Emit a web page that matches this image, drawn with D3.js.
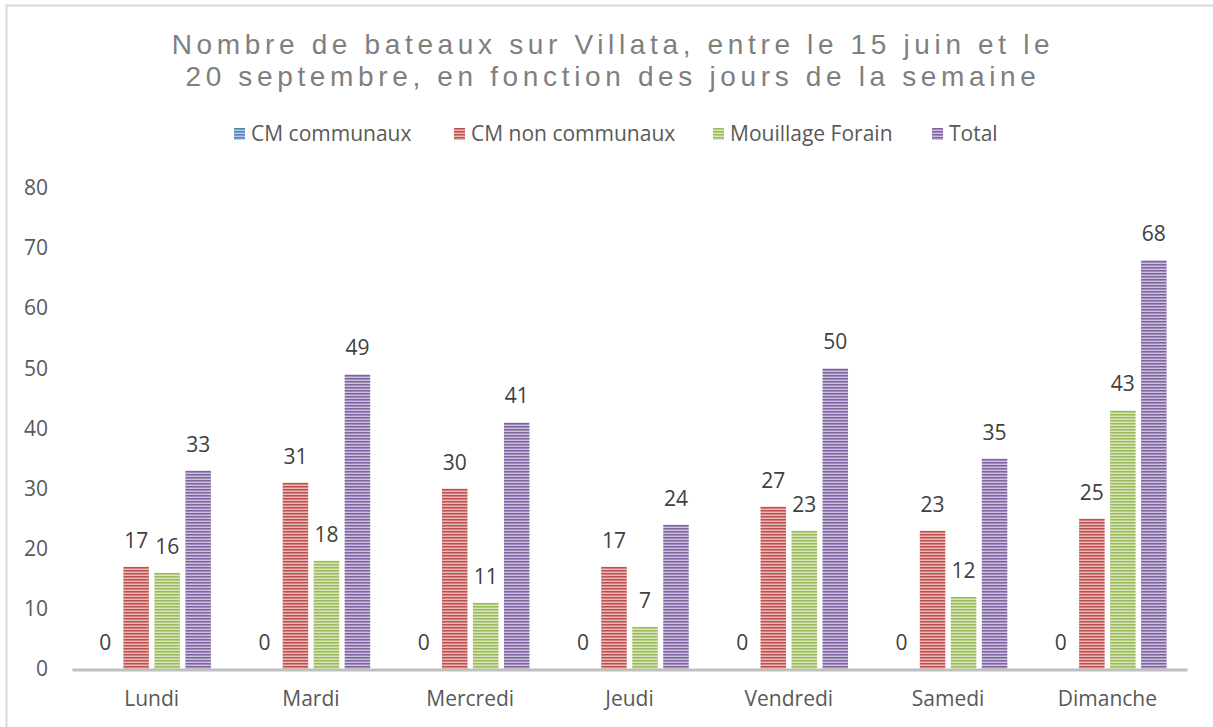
<!DOCTYPE html>
<html><head><meta charset="utf-8">
<script src="https://cdn.jsdelivr.net/npm/d3@7"></script>
<style>html,body{margin:0;padding:0;background:#fff;}svg{display:block;}</style>
</head><body>
<script>
const days = ["Lundi","Mardi","Mercredi","Jeudi","Vendredi","Samedi","Dimanche"];
const seriesNames = ["CM communaux","CM non communaux","Mouillage Forain","Total"];
const cmCommunaux = [0,0,0,0,0,0,0];
const cmNonCommunaux = [17,31,30,17,27,23,25];
const mouillageForain = [16,18,11,7,23,12,43];
const total = [33,49,41,24,50,35,68];
const yTicks = [0,10,20,30,40,50,60,70,80];
const titleLines = ["Nombre de bateaux sur Villata, entre le 15 juin et le","20 septembre, en fonction des jours de la semaine"];

const seriesValues = [cmCommunaux, cmNonCommunaux, mouillageForain, total];
const colors = [
  {dark:"#4f81bd", mid:"#7a9fcf", light:"#b9cde5"},
  {dark:"#c0504d", mid:"#d4807e", light:"#e6b9b8"},
  {dark:"#9bbb59", mid:"#b5cd86", light:"#d7e4bd"},
  {dark:"#8064a2", mid:"#a18bbd", light:"#ccc1da"}
];

const W = 1213, H = 727;
const svg = d3.select("body").append("svg").attr("width", W).attr("height", H);

// patterns
const defs = svg.append("defs");
colors.forEach((c, i) => {
  const p = defs.append("pattern").attr("id", "pat" + i)
    .attr("patternUnits", "userSpaceOnUse").attr("width", 4).attr("height", 3);
  p.append("rect").attr("width", 4).attr("height", 3).attr("fill", c.light);
  p.append("rect").attr("y", 0).attr("width", 4).attr("height", 1).attr("fill", c.dark);
  p.append("rect").attr("y", 1).attr("width", 4).attr("height", 1).attr("fill", c.mid);
});

// chart border
svg.append("rect").attr("x", 6.5).attr("y", 5.5).attr("width", 1230).attr("height", 740)
  .attr("fill", "none").attr("stroke", "#d9d9d9").attr("stroke-width", 2);

// title
const title = svg.append("text").attr("text-anchor", "middle")
  .attr("font-family", "'Liberation Sans', Arial, sans-serif").attr("font-size", 28)
  .attr("letter-spacing", 4.65).attr("fill", "#7f7f7f");
titleLines.forEach((t, i) => {
  title.append("tspan").attr("x", 613).attr("y", 54 + i * 32).text(t);
});

const font = "'Open Sans', sans-serif";
const fs = 21;

// scales
const x0 = d3.scaleBand().domain(days).range([72, 1187]).paddingInner(0).paddingOuter(0);
const x1 = d3.scaleBand().domain(seriesNames).range([0, x0.bandwidth()])
  .paddingInner(0.177).paddingOuter(0.658);
const y = d3.scaleLinear().domain([0, 80]).range([669, 188]);

// y axis labels
const yAxis = svg.append("g").attr("transform", "translate(48,0)")
  .call(d3.axisLeft(y).tickValues(yTicks).tickSize(0).tickPadding(0));
yAxis.select(".domain").remove();
yAxis.selectAll("text").attr("font-family", font).attr("font-size", fs).attr("fill", "#595959");

// bars
const groups = svg.append("g").selectAll("g").data(days).join("g")
  .attr("transform", d => `translate(${x0(d)},0)`);

seriesNames.forEach((s, si) => {
  groups.append("rect")
    .attr("x", x1(s)).attr("width", x1.bandwidth())
    .attr("y", (d, di) => y(seriesValues[si][di]))
    .attr("height", (d, di) => y(0) - y(seriesValues[si][di]))
    .attr("fill", `url(#pat${si})`);
  groups.append("text")
    .attr("x", x1(s) + x1.bandwidth() / 2)
    .attr("y", (d, di) => y(seriesValues[si][di]) - 19)
    .attr("text-anchor", "middle")
    .attr("font-family", font).attr("font-size", fs).attr("fill", "#404040")
    .text((d, di) => seriesValues[si][di]);
});

// x axis
const xAxis = svg.append("g").attr("transform", "translate(0,669.5)")
  .call(d3.axisBottom(x0).tickSize(0).tickPadding(0).tickSizeOuter(0));
xAxis.select(".domain").attr("stroke", "#bfbfbf").attr("stroke-width", 3);
xAxis.selectAll("text").attr("font-family", font).attr("font-size", fs).attr("fill", "#595959")
  .attr("dy", null).attr("y", 36);

// legend
const legendX = [234, 454, 713, 932];
const legend = svg.append("g").selectAll("g").data(seriesNames).join("g")
  .attr("transform", (d, i) => `translate(${legendX[i]},134)`);
legend.append("rect").attr("x", 0).attr("y", -6).attr("width", 11).attr("height", 12)
  .attr("fill", (d, i) => `url(#pat${i})`);
legend.append("text").attr("x", 17).attr("y", 7)
  .attr("font-family", font).attr("font-size", fs).attr("fill", "#595959").text(d => d);
</script>
</body></html>
